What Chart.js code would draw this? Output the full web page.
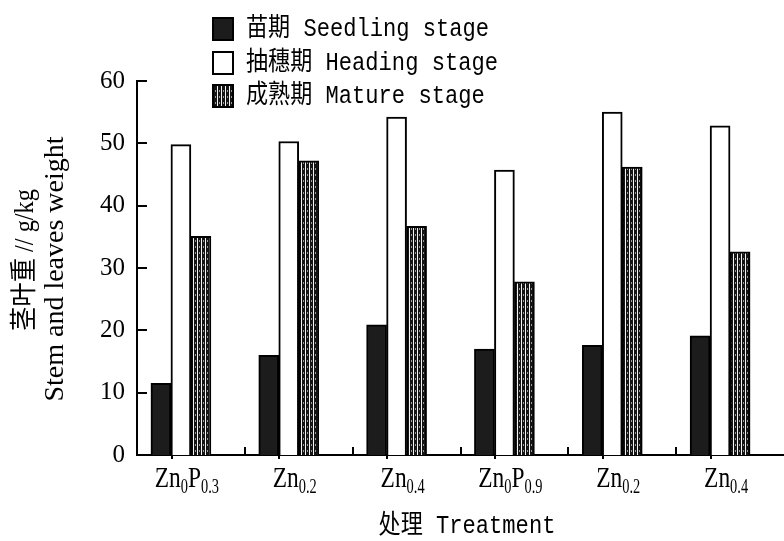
<!DOCTYPE html>
<html><head><meta charset="utf-8">
<script src="https://cdn.jsdelivr.net/npm/chart.js@4"></script>
<style>html,body{margin:0;padding:0;background:#fff;}#wrap{width:784px;height:541px;position:relative;}</style>
</head><body><div id="wrap"><canvas id="c" width="784" height="541"></canvas></div>
<script>
const categories = ['Zn_{0}P_{0.3}', 'Zn_{0.2}', 'Zn_{0.4}', 'Zn_{0}P_{0.9}', 'Zn_{0.2}', 'Zn_{0.4}'];
const seriesNames = ['苗期 Seedling stage', '抽穗期 Heading stage', '成熟期 Mature stage'];
const seedling = [11.5, 16.0, 20.9, 17.0, 17.6, 19.1];
const heading = [49.8, 50.3, 54.2, 45.7, 55.0, 52.8];
const mature = [35.1, 47.2, 36.7, 27.8, 46.2, 32.6];
const yTicks = [0, 10, 20, 30, 40, 50, 60];
const yTitleCn = '茎叶重 // g/kg';
const yTitleEn = 'Stem and leaves weight';
const xTitle = '处理 Treatment';

const canvas = document.getElementById('c');
const ctx = canvas.getContext('2d');

function makeStripes() {
  const p = document.createElement('canvas');
  p.width = 4; p.height = 6;
  const g = p.getContext('2d');
  g.fillStyle = '#141414'; g.fillRect(0, 0, 4, 6);
  g.fillStyle = '#f4f4f4'; g.fillRect(1, 0, 1, 6);
  g.fillStyle = '#9a9a9a'; g.fillRect(3, 0, 1, 2);
  return ctx.createPattern(p, 'repeat');
}
const stripes = makeStripes();

function drawCondensed(c, text, x, y, font, sx, align) {
  c.save();
  c.font = font;
  const w = c.measureText(text).width * sx;
  const x0 = align === 'center' ? x - w / 2 : (align === 'right' ? x - w : x);
  c.translate(x0, y);
  c.scale(sx, 1);
  c.textAlign = 'left';
  c.fillText(text, 0, 0);
  c.restore();
  return w;
}

function parseRich(s) {
  const segs = [];
  const re = /_\{([^}]*)\}|([^_]+)/g;
  let m;
  while ((m = re.exec(s))) {
    if (m[1] !== undefined) segs.push({ t: m[1], sub: true });
    else segs.push({ t: m[2], sub: false });
  }
  return segs;
}

const MAIN_FONT = '30px "Liberation Serif"', MAIN_SX = 0.78;
const SUB_FONT = '20px "Liberation Serif"', SUB_SX = 0.72;

function richWidth(c, segs) {
  let w = 0;
  segs.forEach(s => { c.font = s.sub ? SUB_FONT : MAIN_FONT; w += c.measureText(s.t).width * (s.sub ? SUB_SX : MAIN_SX); });
  return w;
}

const decor = {
  id: 'decor',
  afterDraw(chart) {
    const c = chart.ctx;
    const ca = chart.chartArea;
    const xs = chart.scales.x, ys = chart.scales.y;
    c.save();
    c.fillStyle = '#000';
    c.strokeStyle = '#000';
    c.lineWidth = 2;
    ys.ticks.forEach(t => {
      const py = Math.round(ys.getPixelForValue(t.value));
      c.beginPath(); c.moveTo(ca.left, py); c.lineTo(ca.left + 10, py); c.stroke();
    });
    const n = chart.data.labels.length;
    const cw = (ca.right - ca.left) / n;
    for (let i = 1; i < n; i++) {
      const bx = Math.round((xs.getPixelForValue(i - 1) + xs.getPixelForValue(i)) / 2);
      c.beginPath(); c.moveTo(bx, ca.bottom); c.lineTo(bx, ca.bottom - 8); c.stroke();
    }
    for (let i = 0; i < n; i++) {
      const dx = Math.round(xs.getPixelForValue(i) - cw * 0.18);
      c.beginPath(); c.moveTo(dx, ca.bottom); c.lineTo(dx, ca.bottom + 4); c.stroke();
    }
    c.textBaseline = 'alphabetic';
    chart.data.labels.forEach((lab, i) => {
      const segs = parseRich(lab);
      const w = richWidth(c, segs);
      let x = xs.getPixelForValue(i) - 4 - w / 2;
      const base = ca.bottom + 32;
      segs.forEach(s => {
        x += drawCondensed(c, s.t, x, s.sub ? base + 6 : base, s.sub ? SUB_FONT : MAIN_FONT, s.sub ? SUB_SX : MAIN_SX, 'left');
      });
    });
    c.textBaseline = 'middle';
    drawCondensed(c, xTitle, 467, 526, '26px "Liberation Mono", "Noto Sans CJK SC"', 0.85, 'center');
    c.save();
    c.translate(26, 260);
    c.rotate(-Math.PI / 2);
    drawCondensed(c, yTitleCn, 0, 0, '27px "Liberation Serif", "Noto Sans CJK SC"', 0.9, 'center');
    c.restore();
    c.save();
    c.translate(56, 269);
    c.rotate(-Math.PI / 2);
    drawCondensed(c, yTitleEn, 0, 0, '28px "Liberation Serif"', 1.0, 'center');
    c.restore();
    const rows = [29, 63, 96];
    chart.data.datasets.slice(0, seriesNames.length).forEach((ds, i) => {
      const cy = rows[i];
      c.fillStyle = ds.backgroundColor;
      c.fillRect(213, cy - 11, 20, 22);
      c.lineWidth = 2;
      c.strokeStyle = '#000';
      c.strokeRect(213, cy - 11, 20, 22);
      c.fillStyle = '#000';
      c.textBaseline = 'middle';
      drawCondensed(c, ds.label, 246, cy, '26px "Liberation Mono", "Noto Sans CJK SC"', 0.85, 'left');
    });
    c.restore();
  }
};

new Chart(ctx, {
  type: 'bar',
  data: {
    labels: categories,
    datasets: [
      { label: seriesNames[0], data: seedling, backgroundColor: '#1c1c1c', borderColor: '#000', borderWidth: 2 },
      { label: seriesNames[1], data: heading, backgroundColor: '#ffffff', borderColor: '#000', borderWidth: 2 },
      { label: seriesNames[2], data: mature, backgroundColor: stripes, borderColor: '#000', borderWidth: 2 },
      { label: '', data: [], backgroundColor: 'rgba(0,0,0,0)' }
    ]
  },
  options: {
    responsive: false,
    animation: false,
    devicePixelRatio: 1,
    datasets: { bar: { barThickness: 20 } },
    layout: { padding: { top: 81, right: 0, bottom: 0, left: 0 } },
    plugins: { legend: { display: false }, tooltip: { enabled: false }, title: { display: false } },
    scales: {
      x: {
        type: 'category', offset: true,
        grid: { display: false, drawTicks: false },
        border: { display: true, color: '#000', width: 2 },
        ticks: { display: false },
        afterFit(s) { s.height = 86; }
      },
      y: {
        min: 0, max: 60,
        afterBuildTicks(s) { s.ticks = yTicks.map(v => ({ value: v })); },
        grid: { display: false, drawTicks: false },
        border: { display: true, color: '#000', width: 2 },
        ticks: { color: '#000', padding: 12, font: { family: 'Liberation Serif', size: 25 } },
        afterFit(s) { s.width = 137; }
      }
    }
  },
  plugins: [decor]
});
</script></body></html>
